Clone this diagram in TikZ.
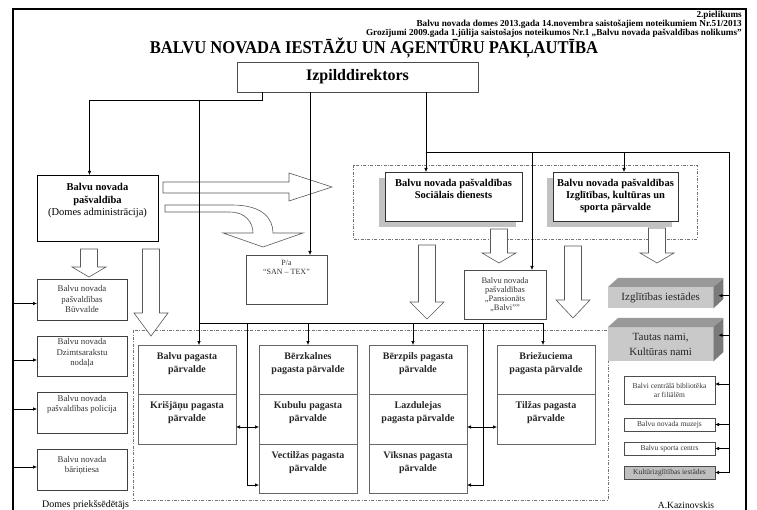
\documentclass[tikz,border=0pt]{standalone}
\usepackage{fontspec}
\setmainfont{Liberation Serif}
\usetikzlibrary{arrows.meta, positioning, shadows}

\tikzstyle{bulta} = [line width=0.6pt,->,>={Latex[length=4pt,width=3.5pt]}]
\tikzstyle{dubulta} = [line width=0.6pt,<->,>={Latex[length=4pt,width=3.5pt]}]
\tikzstyle{kaste} = [rectangle, draw=black!75, inner sep=0pt, outer sep=0pt]
\tikzstyle{mazkaste} = [kaste, font=\fontsize{8.8}{10}\selectfont, text=black!80]
\tikzstyle{pagasts} = [kaste, draw=black!60, line width=0.8pt, font=\fontsize{10}{13}\selectfont\bfseries, text=black!85]
\tikzstyle{dienests} = [kaste, draw=black!80, fill=white, font=\fontsize{10.5}{12}\selectfont\bfseries,
drop shadow={shadow xshift=-6pt, shadow yshift=-6pt, opacity=1, fill=black!24}]
\tikzstyle{telpiska} = [rectangle, fill=black!21, inner sep=0pt, align=center, text=black!85, font=\fontsize{11}{14.5}\selectfont]
\tikzstyle{labaka} = [kaste, draw=black!70, align=center, minimum width=91pt, font=\fontsize{7.5}{9}\selectfont, text=black!80]
\tikzstyle{galva} = [anchor=east, inner sep=0pt, font=\fontsize{9.2}{9}\selectfont\bfseries]
\tikzstyle{tuksa} = [draw=black!65, fill=white, line width=0.6pt]
\tikzstyle{punktirs} = [draw=black!55, line width=0.6pt, dash pattern=on 3pt off 1.5pt on 0.8pt off 1.5pt]

% teksts kastes augšā
\newcommand{\augsa}[4]{\parbox[c][#2][t]{#1}{\centering\vspace*{#3}\strut #4}}
% tukša bulta uz leju: x, augša, galvas sākums, smaile
\newcommand{\lejupbulta}[4]{\draw[tuksa] (#1-8.5,#2) -- (#1+8.5,#2) -- (#1+8.5,#3) -- (#1+17,#3) -- (#1,#4) -- (#1-17,#3) -- (#1-8.5,#3) -- cycle;}

\begin{document}
\begin{tikzpicture}[x=1pt, y=-1pt]
\useasboundingbox (0,0) rectangle (757,510);

% rāmis
\draw[line width=1.3pt] (13,520) |- (746,9) -- (746,520);

% virsraksti
\node (piel1) [galva] at (742,15) {2.pielikums};
\node (piel2) [galva] at (742,24) {Balvu novada domes 2013.gada 14.novembra saistošajiem noteikumiem Nr.51/2013};
\node (piel3) [galva] at (742,33) {Grozījumi 2009.gada 1.jūlija saistošajos noteikumos Nr.1 „Balvu novada pašvaldības nolikums”};
\node (virsraksts) [inner sep=0pt, font=\fontsize{18}{20}\selectfont\bfseries] at (374,48) {\scalebox{0.92}[1]{BALVU NOVADA IESTĀŽU UN AĢENTŪRU PAKĻAUTĪBA}};

% punktētās robežas
\draw[punktirs] (353,165) rectangle (697,239);
\draw[punktirs] (133,330) rectangle (608,500);

% tukšās bultas
\draw[tuksa] (163,182) -- (289,182) -- (289,173) -- (332,187) -- (289,201) -- (289,193) -- (163,193) -- cycle;
\draw[tuksa] (165,205) -- (232,205) .. controls (262,205) and (273,218) .. (273,233) -- (303,233) -- (263,247) -- (223,233) -- (253,233) .. controls (253,222) and (245,212) .. (230,212) -- (165,212) -- cycle;
\lejupbulta{89}{249}{267}{277}
\lejupbulta{151}{249}{313}{336}
\lejupbulta{499}{229}{253}{263}
\lejupbulta{657}{228}{253}{263}
\lejupbulta{427}{245}{302}{319}
\lejupbulta{573}{246}{300}{318}

% iestādes
\node (Izp) [kaste, draw=black!70, minimum width=241pt, minimum height=30pt, anchor=north west, font=\fontsize{16}{18}\selectfont\bfseries] at (237,62) {Izpilddirektors};
\node (BNP) [kaste, draw=black, anchor=north west, font=\fontsize{10.5}{12.5}\selectfont] at (37,175) {\augsa{121pt}{66pt}{7pt}{\textbf{Balvu novada}\\\textbf{pašvaldība}\\(Domes administrācija)}};
\node (Buv) [mazkaste, anchor=north west] at (37,279) {\augsa{90pt}{41pt}{6pt}{Balvu novada\\pašvaldības\\Būvvalde}};
\node (Dzimt) [mazkaste, below=16pt of Buv] {\augsa{90pt}{40pt}{2pt}{Balvu novada\\Dzimtsarakstu\\nodaļa}};
\node (Pol) [mazkaste, below=16pt of Dzimt] {\augsa{90pt}{41pt}{2pt}{Balvu novada\\pašvaldības policija}};
\node (Bar) [mazkaste, below=16pt of Pol] {\augsa{90pt}{41pt}{6pt}{Balvu novada\\bāriņtiesa}};
\node (SanTex) [kaste, draw=black!70, anchor=north west, font=\fontsize{8}{9}\selectfont, text=black!80] at (246,255) {\augsa{81pt}{49pt}{4pt}{P/a\\“SAN – TEX”}};
\node (Pans) [kaste, draw=black!70, anchor=north west, font=\fontsize{8.5}{9.3}\selectfont, text=black!80] at (464,270) {\augsa{82pt}{49pt}{6.5pt}{Balvu novada\\pašvaldības\\„Pansionāts\\„Balvi””}};
\node (SocD) [dienests, anchor=north west] at (385,172) {\augsa{137pt}{49pt}{6pt}{Balvu novada pašvaldības\\Sociālais dienests}};
\node (IKSP) [dienests, anchor=north west] at (553,172) {\augsa{125pt}{49pt}{6pt}{Balvu novada pašvaldības\\Izglītības, kultūras un\\sporta pārvalde}};

% pagastu pārvaldes
\node (Balvu) [pagasts, anchor=north west] at (138,345) {\augsa{98pt}{49pt}{5pt}{Balvu pagasta\\pārvalde}};
\node (Krisj) [pagasts, below=0pt of Balvu] {\augsa{98pt}{50pt}{5pt}{Krišjāņu pagasta\\pārvalde}};
\node (Berzk) [pagasts, anchor=north west] at (259,345) {\augsa{98pt}{49pt}{5pt}{Bērzkalnes\\pagasta pārvalde}};
\node (Kub) [pagasts, below=0pt of Berzk] {\augsa{98pt}{50pt}{5pt}{Kubulu pagasta\\pārvalde}};
\node (Vect) [pagasts, below=0pt of Kub] {\augsa{98pt}{49pt}{5pt}{Vectilžas pagasta\\pārvalde}};
\node (Berzp) [pagasts, anchor=north west] at (369,345) {\augsa{98pt}{49pt}{5pt}{Bērzpils pagasta\\pārvalde}};
\node (Lazd) [pagasts, below=0pt of Berzp] {\augsa{98pt}{50pt}{5pt}{Lazdulejas\\pagasta pārvalde}};
\node (Viks) [pagasts, below=0pt of Lazd] {\augsa{98pt}{49pt}{5pt}{Vīksnas pagasta\\pārvalde}};
\node (Briez) [pagasts, anchor=north west] at (497,345) {\augsa{98pt}{49pt}{5pt}{Briežuciema\\pagasta pārvalde}};
\node (Tilz) [pagasts, below=0pt of Briez] {\augsa{98pt}{50pt}{5pt}{Tilžas pagasta\\pārvalde}};

% labā puse
\node (IzglI) [telpiska, minimum width=105pt, minimum height=21pt, anchor=north west] at (608,287) {Izglītības iestādes};
\fill[black!40] (IzglI.north west) -- ++(10,-9) -- ++(105,0) -- (IzglI.north east) -- cycle;
\fill[black!52] (IzglI.north east) -- ++(10,-9) -- ++(0,21) -- (IzglI.south east) -- cycle;
\node (Taut) [telpiska, minimum width=105pt, minimum height=34pt, anchor=north west] at (608,327) {Tautas nami,\\Kultūras nami};
\fill[black!40] (Taut.north west) -- ++(10,-9) -- ++(105,0) -- (Taut.north east) -- cycle;
\fill[black!52] (Taut.north east) -- ++(10,-9) -- ++(0,34) -- (Taut.south east) -- cycle;
\node (Bibl) [labaka, minimum height=28pt, anchor=north west] at (624,376) {Balvi centrālā bibliotēka\\ar filiālēm};
\node (Muz) [labaka, minimum height=13pt, below=14pt of Bibl] {Balvu novada muzejs};
\node (Sport) [labaka, minimum height=13pt, below=11pt of Muz] {Balvu sporta centrs};
\node (KultI) [labaka, minimum height=13pt, fill=black!25, below=11pt of Sport] {Kultūrizglītības iestādes};

% paraksti
\node (Domes) [anchor=west, inner sep=0pt, font=\fontsize{10}{12}\selectfont] at (42,505) {Domes priekšsēdētājs};
\node (Kaz) [inner sep=0pt, font=\fontsize{9.5}{11}\selectfont] at (686,505) {A.Kazinovskis};

% savienojumi
\coordinate (k1) at (199,100);
\coordinate (k2) at (199,323);
\coordinate (k3) at (543,323);
\coordinate (k4) at (413,323);
\coordinate (k5) at (247,323);
\coordinate (k6) at (483,323);
\coordinate (k7) at (426,152);
\coordinate (k8) at (729,152);
\coordinate (k9) at (729,473);
\coordinate (k10) at (624,152);
\coordinate (k11) at (532,152);

\draw [bulta] ([xshift=25pt]Izp.south west) -- ++(0,8) -| ([xshift=-8pt]BNP.north);
\draw [bulta] ([xshift=73pt]Izp.south west) -- ([xshift=64pt]SanTex.north west);
\draw [bulta] ([xshift=189pt]Izp.south west) -- ([xshift=41pt]SocD.north west);
\draw [bulta] (k1) -- (k1 |- Balvu.north);
\draw (k2) -- (k3);
\draw [bulta] (k3) -- (k3 |- Briez.north);
\draw [bulta] (Berzk.north |- k2) -- (Berzk.north);
\draw [bulta] (k4) -- (k4 |- Berzp.north);
\draw [bulta] (k5) |- ([yshift=8pt]Vect.south west);
\draw [bulta] (k6) |- ([yshift=8pt]Viks.south east);
\draw [dubulta] ([yshift=-8pt]Krisj.east) -- ([yshift=-8pt]Kub.west);
\draw [dubulta] ([yshift=-8pt]Lazd.east) -- ([yshift=-8pt]Tilz.west);

\draw (k7) -- (k8) -- (k9);
\draw [bulta] (k10) -- (k10 |- IKSP.north);
\draw [bulta] (k11) -- (k11 |- Pans.north);
\draw [bulta] ([xshift=16pt,yshift=2pt]IzglI.east) -- ([xshift=5pt,yshift=2pt]IzglI.east);
\draw [bulta] ([xshift=16pt,yshift=9pt]Taut.east) -- ([xshift=5pt,yshift=9pt]Taut.east);
\draw [bulta] ([xshift=14pt,yshift=6pt]Bibl.east) -- ([yshift=6pt]Bibl.east);
\draw [bulta] ([xshift=14pt]Muz.east) -- (Muz.east);
\draw [bulta] ([xshift=14pt]Sport.east) -- (Sport.east);
\draw [bulta] ([xshift=14pt]KultI.east) -- (KultI.east);

\draw [bulta] ([xshift=-24pt,yshift=-4pt]Buv.west) -- ([yshift=-4pt]Buv.west);
\draw [bulta] ([xshift=-24pt,yshift=-4pt]Dzimt.west) -- ([yshift=-4pt]Dzimt.west);
\draw [bulta] ([xshift=-24pt,yshift=3.5pt]Pol.west) -- ([yshift=3.5pt]Pol.west);
\draw [bulta] ([xshift=-24pt,yshift=2.5pt]Bar.west) -- ([yshift=2.5pt]Bar.west);

\end{tikzpicture}
\end{document}
